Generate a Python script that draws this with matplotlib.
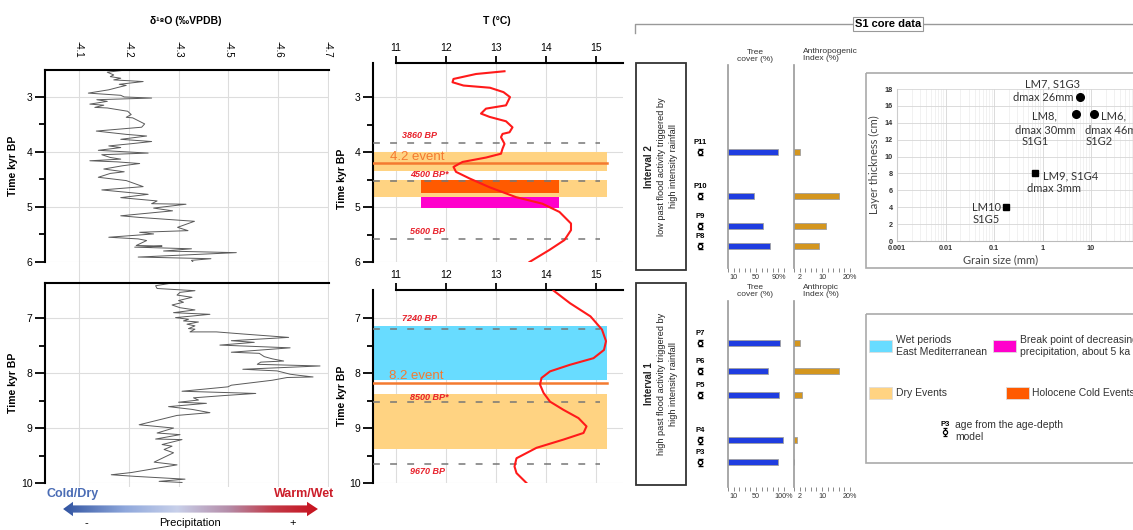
import matplotlib
import matplotlib.pyplot as plt
import numpy as np
from matplotlib.colors import LinearSegmentedColormap
from matplotlib.patches import Polygon, Rectangle

matplotlib.use("Agg")
plt.rcParams["font.family"] = ["Liberation Sans", "DejaVu Sans"]

W, H = 1133, 530

# --- d18O record (permil VPDB) against age (kyr BP), upper and lower sections
d18o_age_top = [2.51, 2.55, 2.60, 2.63, 2.66, 2.69, 2.72, 2.77, 2.79, 2.83, 2.87, 2.93,
                2.97, 3.00, 3.02, 3.05, 3.08, 3.13, 3.15, 3.19, 3.20, 3.26, 3.32, 3.37,
                3.38, 3.49, 3.55, 3.62, 3.68, 3.71, 3.77, 3.81, 3.85, 3.89, 3.92, 3.97,
                4.02, 4.05, 4.10, 4.13, 4.16, 4.18, 4.21, 4.25, 4.31, 4.36, 4.39, 4.46,
                4.52, 4.63, 4.69, 4.77, 4.83, 4.89, 4.94, 4.95, 5.02, 5.07, 5.16, 5.19,
                5.26, 5.37, 5.43, 5.46, 5.49, 5.55, 5.58, 5.61, 5.70, 5.71, 5.72, 5.73,
                5.76, 5.80, 5.83, 5.91, 5.94, 5.97, 6.00]
d18o_top = [-4.195, -4.157, -4.170, -4.163, -4.184, -4.170, -4.229, -4.181, -4.195, -4.177,
            -4.160, -4.119, -4.184, -4.191, -4.246, -4.136, -4.157, -4.122, -4.150, -4.132,
            -4.157, -4.198, -4.205, -4.195, -4.208, -4.232, -4.226, -4.135, -4.195, -4.236,
            -4.184, -4.246, -4.205, -4.160, -4.184, -4.139, -4.239, -4.146, -4.163, -4.184,
            -4.122, -4.177, -4.222, -4.188, -4.150, -4.191, -4.163, -4.139, -4.195, -4.229,
            -4.146, -4.239, -4.184, -4.257, -4.246, -4.315, -4.250, -4.288, -4.184, -4.222,
            -4.332, -4.298, -4.319, -4.222, -4.250, -4.160, -4.219, -4.236, -4.215, -4.267,
            -4.246, -4.212, -4.326, -4.270, -4.416, -4.219, -4.365, -4.326, -4.329]
d18o_age_bot = [6.36, 6.41, 6.46, 6.50, 6.53, 6.58, 6.62, 6.68, 6.71, 6.76, 6.81, 6.85,
                6.90, 6.93, 6.99, 7.02, 7.05, 7.07, 7.11, 7.14, 7.19, 7.20, 7.25, 7.25,
                7.29, 7.35, 7.41, 7.44, 7.49, 7.54, 7.62, 7.64, 7.70, 7.74, 7.78, 7.80,
                7.84, 7.87, 7.93, 7.96, 8.02, 8.04, 8.07, 8.08, 8.13, 8.22, 8.25, 8.33,
                8.37, 8.41, 8.45, 8.49, 8.53, 8.55, 8.61, 8.66, 8.72, 8.77, 8.94, 9.00,
                9.09, 9.12, 9.20, 9.21, 9.30, 9.33, 9.39, 9.45, 9.62, 9.67, 9.73, 9.81,
                9.85, 9.88, 9.93, 9.97, 9.99]
d18o_bot = [-4.287, -4.254, -4.257, -4.333, -4.303, -4.297, -4.327, -4.300, -4.310, -4.287,
            -4.303, -4.333, -4.290, -4.363, -4.294, -4.320, -4.310, -4.340, -4.317, -4.333,
            -4.320, -4.333, -4.323, -4.376, -4.432, -4.521, -4.406, -4.452, -4.383, -4.524,
            -4.406, -4.462, -4.472, -4.488, -4.511, -4.465, -4.458, -4.584, -4.429, -4.498,
            -4.524, -4.541, -4.570, -4.518, -4.488, -4.406, -4.399, -4.307, -4.455, -4.389,
            -4.330, -4.340, -4.300, -4.356, -4.280, -4.327, -4.363, -4.297, -4.221, -4.290,
            -4.257, -4.303, -4.254, -4.307, -4.267, -4.287, -4.271, -4.290, -4.251, -4.297,
            -4.257, -4.205, -4.165, -4.214, -4.313, -4.261, -4.307]
d18o_ticks = [-4.1, -4.2, -4.3, -4.4, -4.5, -4.6]
d18o_ticklabels = ["-4.1", "-4.2", "-4.3", "-4.5", "-4.6", "-4.7"]

# --- reconstructed temperature (deg C)
temp_age_top = [2.53, 2.58, 2.67, 2.73, 2.79, 2.83, 2.91, 3.00, 3.15, 3.21, 3.30, 3.36,
                3.44, 3.55, 3.64, 3.67, 3.73, 3.85, 3.94, 4.03, 4.10, 4.18, 4.27, 4.36,
                4.48, 4.64, 4.82, 4.94, 5.09, 5.30, 5.42, 5.60, 5.78, 6.00]
temp_top = [13.17, 12.60, 12.15, 12.13, 12.35, 12.88, 13.15, 13.28, 13.20, 12.80, 12.70, 12.87,
            13.20, 13.33, 13.27, 13.13, 13.10, 13.17, 13.13, 13.10, 12.80, 12.33, 12.15, 12.20,
            12.47, 12.87, 13.40, 13.93, 14.27, 14.50, 14.50, 14.37, 14.07, 13.67]
temp_age_bot = [6.50, 6.73, 6.97, 7.21, 7.42, 7.58, 7.73, 7.85, 7.97, 8.09, 8.21, 8.36,
                8.52, 8.67, 8.82, 8.97, 9.09, 9.21, 9.36, 9.55, 9.70, 9.82, 10.00]
temp_bot = [14.15, 14.48, 14.89, 15.12, 15.20, 15.16, 14.95, 14.48, 14.08, 13.91, 13.88, 13.95,
            14.08, 14.35, 14.65, 14.81, 14.75, 14.35, 13.81, 13.41, 13.37, 13.41, 13.61]
temp_ticks = [11, 12, 13, 14, 15]

# --- events (kyr BP)
dated_top = [3.84, 4.53, 5.58]
dated_top_labels = ["3860 BP", "4500 BP*", "5600 BP"]
dated_bot = [7.20, 8.52, 9.65]
dated_bot_labels = ["7240 BP", "8500 BP*", "9670 BP"]
dry_bands_top = [(4.00, 4.34), (4.50, 4.82)]
dry_bands_bot = [(8.38, 9.38)]
wet_bands_bot = [(7.15, 8.12)]
cold_event = (4.50, 4.75)
break_point = (4.82, 5.02)
event_lines = [4.2, 8.18]
event_names = ["4.2 event", "8.2 event"]

# --- S1 core samples
samp_top = ["P11", "P10", "P9", "P8"]
samp_top_age = [4.00, 4.80, 5.35, 5.71]
tree_top = [89, 46, 62, 75]
anthro_top = [2.1, 16.2, 11.4, 9.0]
samp_bot = ["P7", "P6", "P5", "P4", "P3"]
samp_bot_age = [7.45, 7.96, 8.40, 9.22, 9.62]
tree_bot = [93, 71, 91, 98, 89]
anthro_bot = [2.1, 16.0, 2.9, 1.1, 0.0]
tree_ticks = list(range(0, 101, 10))
anthro_ticks = list(range(0, 21, 2))

# --- grain size vs layer thickness
layers = ["LM7", "LM8", "LM6", "LM9", "LM10"]
grain_mm = [5.8, 5.0, 11.3, 0.71, 0.18]
thick_cm = [17, 15, 15, 8, 4]
layer_marker = ["o", "o", "o", "s", "s"]
grain_ticks = [0.001, 0.01, 0.1, 1, 10, 100, 1000]
grain_ticklabels = ["0.001", "0.01", "0.1", "1", "10", "100", "1000"]

C_DRY = "#FFD382"
C_WET = "#68DCFF"
C_COLD = "#FF5A00"
C_BREAK = "#FF00CC"
C_EVENT = "#F47A30"
C_RED = "#FF1A1A"
C_LBL = "#E8202A"
GRID = "#dddddd"

fig = plt.figure(figsize=(W / 100, H / 100), dpi=100)


def px_axes(x0, y0, x1, y1):
    ax = fig.add_axes([x0 / W, 1 - y1 / H, (x1 - x0) / W, (y1 - y0) / H])
    ax.patch.set_alpha(0)
    return ax


def time_axis(ax, major, minor):
    for s in ["right", "bottom"]:
        ax.spines[s].set_visible(False)
    ax.spines["top"].set_linewidth(1.5)
    ax.spines["left"].set_linewidth(1.5)
    ax.set_yticks(major)
    ax.set_yticks(minor, minor=True)
    ax.tick_params(axis="y", which="major", length=7, width=1.3, labelsize=7.5, pad=2)
    ax.tick_params(axis="y", which="minor", length=4, width=1.3)
    for v in major:
        ax.axhline(v, color=GRID, lw=0.8, zorder=0)


# ---------------- left column: d18O ----------------
bg = px_axes(45, 70, 329, 487)
bg.set_xlim(-4.032, -4.602)
for t in d18o_ticks:
    bg.axvline(t, color=GRID, lw=0.8)
bg.axis("off")

ax = px_axes(45, 70, 329, 262)
ax.plot(d18o_top, d18o_age_top, color="#5a5a5a", lw=0.7)
ax.set_xlim(-4.032, -4.602)
ax.set_ylim(6, 2.51)
ax.xaxis.tick_top()
ax.set_xticks(d18o_ticks)
ax.set_xticklabels(d18o_ticklabels, rotation=-90, fontsize=7)
ax.tick_params(axis="x", length=0, pad=9)
time_axis(ax, [3, 4, 5, 6], [3.5, 4.5, 5.5])
ax.set_ylabel("Time kyr BP", fontsize=7.5, fontweight="bold", labelpad=6)

ax = px_axes(45, 283, 329, 483)
ax.plot(d18o_bot, d18o_age_bot, color="#5a5a5a", lw=0.7)
ax.set_xlim(-4.032, -4.602)
ax.set_ylim(10, 6.36)
ax.set_xticks([])
time_axis(ax, [7, 8, 9, 10], [7.5, 8.5, 9.5])
ax.set_ylabel("Time kyr BP", fontsize=7.5, fontweight="bold", labelpad=2)

fig.text(186 / W, 1 - 21 / H, "δ¹⁸O (‰VPDB)", ha="center", va="center",
         fontsize=7.5, fontweight="bold")

# precipitation gradient arrow
arr = px_axes(60, 500, 320, 518)
arr.set_xlim(0, 1)
arr.set_ylim(0, 1)
arr.axis("off")
cmap = LinearSegmentedColormap.from_list(
    "precip", [(0, "#2c4f9e"), (0.25, "#8fa8dc"), (0.45, "#c8d0ea"),
               (0.65, "#b58ca8"), (0.82, "#c23a48"), (1, "#c8101c")])
img = arr.imshow(np.linspace(0, 1, 256)[None, :], cmap=cmap, aspect="auto",
                 extent=[0, 1, 0, 1])
shape = Polygon([(0.012, 0.5), (0.05, 0.9), (0.05, 0.7), (0.95, 0.7), (0.95, 0.9),
                 (0.992, 0.5), (0.95, 0.1), (0.95, 0.3), (0.05, 0.3), (0.05, 0.1)],
                closed=True, transform=arr.transData, facecolor="none", edgecolor="none")
arr.add_patch(shape)
img.set_clip_path(shape)
fig.text(73 / W, 1 - 494 / H, "Cold/Dry", ha="center", va="center", fontsize=9,
         fontweight="bold", color="#4a6cb5")
fig.text(304 / W, 1 - 494 / H, "Warm/Wet", ha="center", va="center", fontsize=9,
         fontweight="bold", color="#cc1e2a")
fig.text(190 / W, 1 - 523 / H, "Precipitation", ha="center", va="center", fontsize=8)
fig.text(86 / W, 1 - 523 / H, "-", ha="center", va="center", fontsize=8)
fig.text(293 / W, 1 - 523 / H, "+", ha="center", va="center", fontsize=8)

# ---------------- middle column: temperature ----------------
T_LIM = (10.54, 15.54)
DASH = (0, (4.5, 6.7))


def temp_axis(ax, major, minor):
    ax.set_xlim(*T_LIM)
    ax.xaxis.tick_top()
    ax.set_xticks(temp_ticks)
    ax.tick_params(axis="x", length=5, width=1.3, labelsize=7.5, pad=2)
    ax.spines["top"].set_bounds(11, T_LIM[1])
    for t in temp_ticks:
        ax.axvline(t, color=GRID, lw=0.8, zorder=0)
    time_axis(ax, major, minor)


ax = px_axes(373, 63, 623, 262)
temp_axis(ax, [3, 4, 5, 6], [3.5, 4.5, 5.5])
ax.set_ylim(6, 2.38)
for lo, hi in dry_bands_top:
    ax.add_patch(Rectangle((T_LIM[0], lo), 15.22 - T_LIM[0], hi - lo, color=C_DRY, lw=0, zorder=1))
ax.add_patch(Rectangle((11.5, cold_event[0]), 2.76, cold_event[1] - cold_event[0],
                       color=C_COLD, lw=0, zorder=2))
ax.add_patch(Rectangle((11.5, break_point[0]), 2.76, break_point[1] - break_point[0],
                       color=C_BREAK, lw=0, zorder=2))
ax.plot([T_LIM[0], 15.22], [event_lines[0]] * 2, color=C_EVENT, lw=1.8, zorder=3)
ax.text(10.88, 4.09, event_names[0], color=C_EVENT, fontsize=9.5, ha="left", va="center", zorder=4)
for v, lab, dy in zip(dated_top, dated_top_labels, [-0.15, -0.13, -0.14]):
    ax.plot([T_LIM[0], 15.08], [v, v], color="#777777", lw=1.1, ls=DASH, zorder=3)
    ax.text(11.28 if "*" in lab or "56" in lab else 11.12, v + dy, lab, color=C_LBL,
            fontsize=6.5, fontstyle="italic", fontweight="bold", va="center", zorder=4)
ax.plot(temp_top, temp_age_top, color=C_RED, lw=1.5, zorder=5)
ax.set_ylabel("Time kyr BP", fontsize=7.5, fontweight="bold", labelpad=2)
ax.yaxis.set_label_coords(-0.105, 0.42)

ax = px_axes(373, 290, 623, 483)
temp_axis(ax, [7, 8, 9, 10], [7.5, 8.5, 9.5])
ax.set_ylim(10, 6.49)
for lo, hi in wet_bands_bot:
    ax.add_patch(Rectangle((T_LIM[0], lo), 15.22 - T_LIM[0], hi - lo, color=C_WET, lw=0, zorder=1))
for lo, hi in dry_bands_bot:
    ax.add_patch(Rectangle((T_LIM[0], lo), 15.22 - T_LIM[0], hi - lo, color=C_DRY, lw=0, zorder=1))
ax.plot([T_LIM[0], 15.22], [event_lines[1]] * 2, color=C_EVENT, lw=1.8, zorder=3)
ax.text(10.86, 8.06, event_names[1], color=C_EVENT, fontsize=9.5, ha="left", va="center", zorder=4)
for v, lab, dy in zip(dated_bot, dated_bot_labels, [-0.2, -0.08, 0.14]):
    ax.plot([T_LIM[0], 15.08], [v, v], color="#777777", lw=1.1, ls=DASH, zorder=3)
    ax.text(11.12 if lab.startswith("72") else 11.28, v + dy, lab, color=C_LBL,
            fontsize=6.5, fontstyle="italic", fontweight="bold", va="center", zorder=4)
ax.plot(temp_bot, temp_age_bot, color=C_RED, lw=1.5, zorder=5)
ax.set_ylabel("Time kyr BP", fontsize=7.5, fontweight="bold", labelpad=2)
ax.yaxis.set_label_coords(-0.105, 0.45)

fig.text(497 / W, 1 - 21 / H, "T (°C)", ha="center", va="center", fontsize=7.5,
         fontweight="bold")

# ---------------- S1 core data ----------------
ov = fig.add_axes([0, 0, 1, 1])
ov.set_xlim(0, W)
ov.set_ylim(H, 0)
ov.axis("off")
ov.patch.set_alpha(0)
ov.plot([635, 635, W], [33, 24, 24], color="#999999", lw=1)
ov.text(888, 24, "S1 core data", ha="center", va="center", fontsize=8, fontweight="bold",
        bbox=dict(boxstyle="square,pad=0.2", fc="white", ec="#999999", lw=0.8))

interval_text = [
    ("Interval 2", "low past flood activity triggered by", "high intensity rainfall", 63, 270),
    ("Interval 1", "high past flood activity triggered by", "high intensity rainfall", 283, 485),
]
for head, l1, l2, y0, y1 in interval_text:
    ov.add_patch(Rectangle((636, y0), 50, y1 - y0, fill=False, ec="#333333", lw=1.3))
    yc = (y0 + y1) / 2
    ov.text(649, yc, head, rotation=90, ha="center", va="center", fontsize=7,
            fontweight="bold", color="#222222")
    ov.text(662, yc, l1, rotation=90, ha="center", va="center", fontsize=6.6, color="#222222")
    ov.text(674, yc, l2, rotation=90, ha="center", va="center", fontsize=6.6, color="#222222")


def sample_markers(y0, y1, ylim, names, ages):
    mk = px_axes(688, y0, 712, y1)
    mk.set_xlim(-1, 1)
    mk.set_ylim(*ylim)
    mk.axis("off")
    mk.errorbar([0] * len(ages), ages, yerr=0.06, fmt="o", ms=3.2, mfc="white",
                mec="black", mew=1, ecolor="black", elinewidth=1, capsize=1.8, capthick=1)
    for n, a in zip(names, ages):
        mk.text(0, a - 0.17, n, ha="center", va="center", fontsize=5.5, fontweight="bold")


def bar_axis(x0, y0, x1, y1, ylim, ages, vals, xmax, ticks, labels, color):
    b = px_axes(x0, y0, x1, y1)
    b.barh(ages, vals, height=0.11, color=color, edgecolor="#a0a0a0", lw=0.6)
    b.set_xlim(0, xmax)
    b.set_ylim(*ylim)
    for s in ["top", "right", "bottom"]:
        b.spines[s].set_visible(False)
    b.spines["left"].set_color("#999999")
    b.spines["left"].set_linewidth(1.2)
    b.set_yticks([])
    b.set_xticks(ticks)
    b.set_xticklabels(labels)
    b.tick_params(axis="x", length=3, width=0.7, color="#888888", labelsize=5.2,
                  labelcolor="#333333", pad=1.5)


top_lim = (6.11, 2.42)
bot_lim = (10.07, 6.69)
lab_tree_top = ["10" if t == 10 else "50" if t == 50 else "90%" if t == 90 else "" for t in tree_ticks]
lab_tree_bot = ["10" if t == 10 else "50" if t == 50 else "100%" if t == 100 else "" for t in tree_ticks]
lab_anthro = ["2" if t == 2 else "10" if t == 10 else "20%" if t == 20 else "" for t in anthro_ticks]

sample_markers(65, 268, top_lim, samp_top, samp_top_age)
sample_markers(301, 487, bot_lim, samp_bot, samp_bot_age)
bar_axis(728, 65, 784, 268, top_lim, samp_top_age, tree_top, 100, tree_ticks, lab_tree_top, "#1f3de0")
bar_axis(794, 65, 850, 268, top_lim, samp_top_age, anthro_top, 20, anthro_ticks, lab_anthro, "#d4961e")
bar_axis(728, 301, 784, 487, bot_lim, samp_bot_age, tree_bot, 100, tree_ticks, lab_tree_bot, "#1f3de0")
bar_axis(794, 301, 850, 487, bot_lim, samp_bot_age, anthro_bot, 20, anthro_ticks, lab_anthro, "#d4961e")

ov.text(755, 56, "Tree\ncover (%)", ha="center", va="center", fontsize=6, color="#333333",
        linespacing=0.95)
ov.text(803, 55, "Anthropogenic\nIndex (%)", ha="left", va="center", fontsize=6,
        color="#333333", linespacing=0.95)
ov.text(755, 291, "Tree\ncover (%)", ha="center", va="center", fontsize=6, color="#333333",
        linespacing=0.95)
ov.text(821, 291, "Anthropic\nIndex (%)", ha="center", va="center", fontsize=6,
        color="#333333", linespacing=0.95)

# grain size scatter
ov.add_patch(Rectangle((866, 73), 290, 195, fill=False, ec="#aaaaaa", lw=1.2))
sc = px_axes(897, 89, 1188, 241)
sc.set_xscale("log")
sc.set_xlim(1e-3, 1e3)
sc.set_ylim(0, 18)
for s in ["top", "right"]:
    sc.spines[s].set_visible(False)
sc.spines["left"].set_color("#cccccc")
sc.spines["bottom"].set_color("#bbbbbb")
sc.grid(True, which="major", color="#d6d6d6", lw=0.6)
sc.grid(True, which="minor", axis="x", color="#ececec", lw=0.5)
sc.set_axisbelow(True)
sc.set_yticks(range(0, 19, 2))
sc.set_xticks(grain_ticks)
sc.set_xticklabels(grain_ticklabels)
sc.tick_params(which="both", length=0, labelsize=5.2, labelcolor="#333333", pad=3)
for lab in sc.get_xticklabels() + sc.get_yticklabels():
    lab.set_fontweight("bold")
for g, t, m in zip(grain_mm, thick_cm, layer_marker):
    sc.plot(g, t, marker=m, color="black", ms=5.5 if m == "o" else 5, ls="none")
sc.set_ylabel("Layer thickness (cm)", fontsize=8, color="#444444", family="Lato", labelpad=3)
sc.text(0.357, -0.09, "Grain size (mm)", transform=sc.transAxes, ha="center", va="top",
        fontsize=8, color="#444444", family="Lato")

notes = [
    (0, "LM7, S1G3", -27, 14, "center"), (0, "dmax 26mm", -6, 0, "right"),
    (1, "LM8,", -32, -2, "center"), (1, "dmax 30mm", -31, -16, "center"),
    (1, "S1G1", -41, -27, "center"),
    (2, "LM6,", 7, -2, "left"), (2, "dmax 46mm", -9, -16, "left"), (2, "S1G2", 6, -27, "center"),
    (3, "LM9, S1G4", 8, -2, "left"), (3, "dmax 3mm", 19, -15, "center"),
    (4, "LM10", -5, 0, "right"), (4, "S1G5", -20, -12, "center"),
]
for i, txt, dx, dy, ha in notes:
    sc.annotate(txt, (grain_mm[i], thick_cm[i]), xytext=(dx, dy), textcoords="offset pixels",
                ha=ha, va="center", fontsize=8, color="#333333", family="Lato",
                annotation_clip=False)

# legend
ov.add_patch(Rectangle((866, 314), 290, 149, fill=False, ec="#aaaaaa", lw=1.2))
legend_items = [
    (869, 340, C_WET, 896, "Wet periods\nEast Mediterranean"),
    (993, 340, C_BREAK, 1020, "Break point of decreasing\nprecipitation, about 5 ka"),
    (869, 387, C_DRY, 896, "Dry Events"),
    (1006, 387, C_COLD, 1032, "Holocene Cold Events"),
]
for x, y, c, tx, txt in legend_items:
    ov.add_patch(Rectangle((x, y), 23, 12, fc=c, ec="#dddddd", lw=0.6))
    ov.text(tx, y + 6, txt, ha="left", va="center", fontsize=7.5, color="#333333",
            linespacing=1.25)
ov.errorbar([945], [432], yerr=4, fmt="o", ms=3, mfc="white", mec="black", mew=0.9,
            ecolor="black", elinewidth=0.9, capsize=1.5)
ov.text(945, 425, "P3", ha="center", va="center", fontsize=5.5, fontweight="bold")
ov.text(955, 431, "age from the age-depth\nmodel", ha="left", va="center", fontsize=7.5,
        color="#333333", linespacing=1.25)

fig.savefig("out.png", dpi=100)
